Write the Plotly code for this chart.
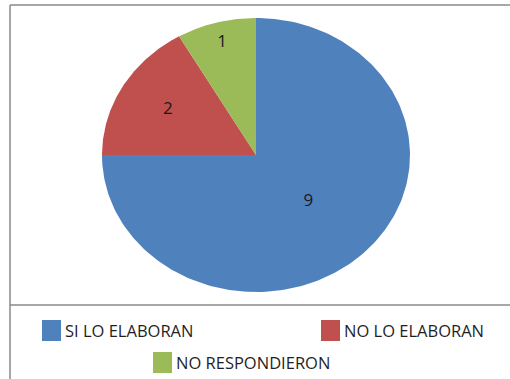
import numpy as np
import plotly.graph_objects as go

# Survey answers
categories = ["SI LO ELABORAN", "NO LO ELABORAN", "NO RESPONDIERON"]
counts = [9, 2, 1]
colors = ["#4F81BD", "#C0504D", "#9BBB59"]

W, H = 510, 379
FONT = "Open Sans"

fig = go.Figure()

# Slices are drawn clockwise from 12 o'clock on a unit circle; the axis
# ranges stretch it into the flattened ellipse of the chart area.
total = float(sum(counts))
start = 0.0
label_r = [0.48, 0.66, 0.85]
for name, val, col, lr in zip(categories, counts, colors, label_r):
    span = 360.0 * val / total
    th = np.radians(np.linspace(start, start + span, 200))
    xs = np.concatenate([[0.0], np.sin(th), [0.0]])
    ys = np.concatenate([[0.0], np.cos(th), [0.0]])
    fig.add_trace(go.Scatter(
        x=xs, y=ys, mode="lines", fill="toself", fillcolor=col,
        line=dict(width=0, color=col), name=name, showlegend=False,
        hoverinfo="name",
    ))
    mid = np.radians(start + span / 2)
    fig.add_trace(go.Scatter(
        x=[lr * np.sin(mid)], y=[lr * np.cos(mid)], mode="text",
        text=[str(val)], textfont=dict(family=FONT, size=17, color="#1a1a1a"),
        showlegend=False, hoverinfo="skip",
    ))
    start += span

# pixel geometry of the ellipse: centre and radii
cx, cy, rx, ry = 256, 155, 154, 137
fig.update_xaxes(range=[(0 - cx) / rx, (W - cx) / rx], visible=False,
                 fixedrange=True)
fig.update_yaxes(range=[(cy - H) / ry, cy / ry], visible=False,
                 fixedrange=True)


def px(x):
    return x / W


def py(y):
    return 1 - y / H


shapes = []
line = dict(color="#8a8a8a", width=1.5)
# chart frame: top, left and the separator above the legend
shapes.append(dict(type="line", xref="paper", yref="paper",
                   x0=px(10), x1=px(W), y0=py(5), y1=py(5), line=line))
shapes.append(dict(type="line", xref="paper", yref="paper",
                   x0=px(10), x1=px(10), y0=py(5), y1=py(H), line=line))
shapes.append(dict(type="line", xref="paper", yref="paper",
                   x0=px(10), x1=px(W), y0=py(305), y1=py(305), line=line))

# legend: colour swatch + label
legend_pos = [(42, 320), (321, 320), (153, 352)]
annotations = []
for name, col, (lx, ly) in zip(categories, colors, legend_pos):
    shapes.append(dict(type="rect", xref="paper", yref="paper",
                       x0=px(lx), x1=px(lx + 19), y0=py(ly), y1=py(ly + 21),
                       fillcolor=col, line=dict(width=0)))
    annotations.append(dict(xref="paper", yref="paper", x=px(lx + 21),
                            y=py(ly + 10.5), text=name, showarrow=False,
                            xanchor="left", yanchor="middle",
                            font=dict(family=FONT, size=16.5, color="#1f1f1f")))

fig.update_layout(
    width=W, height=H, margin=dict(l=0, r=0, t=0, b=0),
    paper_bgcolor="white", plot_bgcolor="white",
    shapes=shapes, annotations=annotations, showlegend=False,
)

fig.write_html("out.html")
